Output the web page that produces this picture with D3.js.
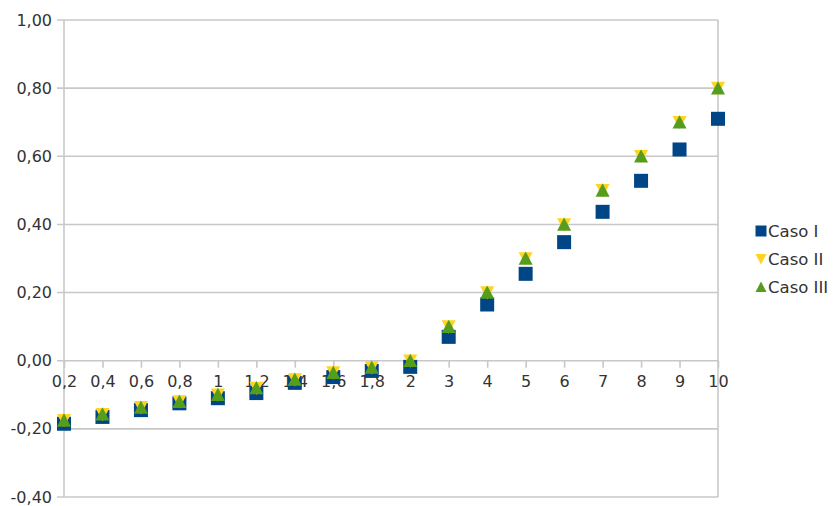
<!DOCTYPE html>
<html>
<head>
<meta charset="utf-8">
<script src="https://cdn.jsdelivr.net/npm/d3@7"></script>
<style>
  html, body { margin: 0; padding: 0; background: #fff; }
  svg { display: block; }
  text { font-family: "DejaVu Sans", sans-serif; fill: #333; }
</style>
</head>
<body>
<svg id="chart" width="833" height="506"></svg>
<script>
// Category labels along the x axis
const categories = ["0,2", "0,4", "0,6", "0,8", "1", "1,2", "1,4", "1,6", "1,8", "2",
                    "3", "4", "5", "6", "7", "8", "9", "10"];

// Series values per category
const casoI   = [-0.185, -0.165, -0.145, -0.125, -0.11, -0.095, -0.065, -0.048, -0.03, -0.018,
                 0.07, 0.165, 0.255, 0.348, 0.437, 0.528, 0.62, 0.71];
const casoII  = [-0.175, -0.157, -0.137, -0.12, -0.10, -0.08, -0.055, -0.035, -0.02, 0.0,
                 0.10, 0.20, 0.30, 0.40, 0.50, 0.60, 0.70, 0.80];
const casoIII = [-0.175, -0.157, -0.137, -0.12, -0.10, -0.08, -0.055, -0.035, -0.02, 0.0,
                 0.10, 0.20, 0.30, 0.40, 0.50, 0.60, 0.70, 0.80];

const yTicks = [-0.4, -0.2, 0, 0.2, 0.4, 0.6, 0.8, 1.0];

const series = [
  { name: "Caso I",   values: casoI,   color: "#004586", shape: "square" },
  { name: "Caso II",  values: casoII,  color: "#ffd320", shape: "down" },
  { name: "Caso III", values: casoIII, color: "#579d1c", shape: "up" }
];

const svg = d3.select("#chart");
const plotLeft = 64, plotRight = 718, plotTop = 20, plotBottom = 497;

const x = d3.scalePoint().domain(categories).range([plotLeft, plotRight]);
const y = d3.scaleLinear().domain([-0.4, 1.0]).range([plotBottom, plotTop]);

const fmt = v => d3.format(".2f")(v).replace(".", ",").replace("−", "-");

// Horizontal gridlines
svg.append("g").selectAll("line").data(yTicks).join("line")
  .attr("x1", plotLeft - 7).attr("x2", plotRight)
  .attr("y1", d => y(d)).attr("y2", d => y(d))
  .attr("stroke", "#c8c8c8").attr("stroke-width", 1.6);

// Left and right plot edges
svg.append("g").selectAll("line").data([plotLeft, plotRight]).join("line")
  .attr("x1", d => d).attr("x2", d => d)
  .attr("y1", plotTop).attr("y2", plotBottom)
  .attr("stroke", "#c8c8c8").attr("stroke-width", 1.6);

// Y axis labels
const yAxis = d3.axisLeft(y).tickValues(yTicks).tickFormat(fmt).tickSize(0).tickPadding(12);
const gy = svg.append("g").attr("transform", `translate(${plotLeft},0)`).call(yAxis);
gy.select(".domain").remove();
gy.selectAll("text").attr("font-size", 16).attr("font-family", "DejaVu Sans").attr("fill", "#333");

// X axis drawn through zero
const xAxis = d3.axisBottom(x).tickSize(7).tickPadding(8);
const gx = svg.append("g").attr("transform", `translate(0,${y(0)})`).call(xAxis);
gx.select(".domain").remove();
gx.selectAll("line").attr("stroke", "#c8c8c8").attr("stroke-width", 1.6);
gx.selectAll("text").attr("font-size", 16).attr("font-family", "DejaVu Sans").attr("fill", "#333");

// Marker shapes
const shapes = {
  square: s => `M${-s/2},${-s/2}h${s}v${s}h${-s}Z`,
  down: s => `M${-s/2},${-s*0.45}L${s/2},${-s*0.45}L0,${s*0.5}Z`,
  up: s => `M0,${-s*0.5}L${s/2},${s*0.45}L${-s/2},${s*0.45}Z`
};

// Data markers
series.forEach(sr => {
  svg.append("g").selectAll("path").data(sr.values).join("path")
    .attr("transform", (d, i) => `translate(${x(categories[i])},${y(d)})`)
    .attr("d", shapes[sr.shape](14))
    .attr("fill", sr.color);
});

// Legend
const legend = svg.append("g");
series.forEach((sr, i) => {
  const ly = 231 + i * 28;
  legend.append("path")
    .attr("transform", `translate(761,${ly})`)
    .attr("d", shapes[sr.shape](11))
    .attr("fill", sr.color);
  legend.append("text")
    .attr("x", 768).attr("y", ly)
    .attr("dy", "0.36em")
    .attr("font-size", 16.5)
    .text(sr.name);
});
</script>
</body>
</html>
